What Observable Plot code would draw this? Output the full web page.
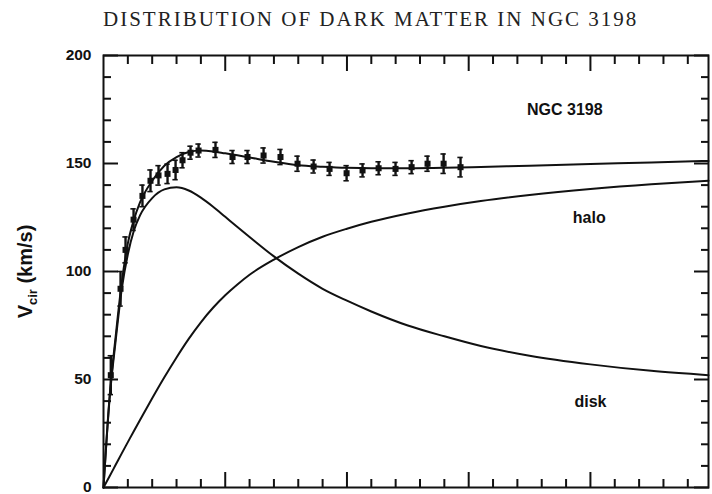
<!DOCTYPE html>
<html><head><meta charset="utf-8">
<script src="https://cdn.jsdelivr.net/npm/d3@7"></script>
<script src="https://cdn.jsdelivr.net/npm/@observablehq/plot@0.6"></script>
<style>
body{margin:0;background:#fff;width:712px;height:494px;overflow:hidden;position:relative}
#title{position:absolute;left:103px;top:9px;font-family:"Liberation Serif","Times New Roman",serif;font-size:21px;letter-spacing:2px;color:#222;white-space:nowrap;line-height:1}
#chart{position:absolute;left:0;top:0}
</style></head><body>
<div id="chart"></div>
<div id="title"></div>
<script>
const titleText = "DISTRIBUTION OF DARK MATTER IN NGC 3198";
const yLabelText = "Vcir (km/s)";

// model curves (radius kpc, velocity km/s)
const curveR = [0, 0.5, 1, 1.5, 2, 2.5, 3, 4, 5, 6, 7, 8, 9, 10, 11, 12, 14, 16, 18, 20, 22, 25, 28, 31, 35, 40, 45, 49.7];
const totalV = [0, 42, 70, 95, 113, 124, 132, 142, 149, 153, 155.3, 156, 155.6, 154.7, 153.8, 152.8, 150.8, 149.2, 148.5, 148, 147.8, 147.8, 148, 148.4, 149, 149.8, 150.5, 151.2];
const diskV  = [0, 41, 68, 92, 108, 119, 126, 134, 138, 139, 137.5, 134.2, 130, 125.3, 120.6, 116, 107, 99, 92, 86.5, 81.5, 75, 70, 65.5, 61, 57, 54, 52];
const haloV  = [0, 5.2, 10.5, 15.8, 21, 26.2, 31.3, 41.3, 51, 60.2, 68.8, 76.5, 83.2, 89, 94, 98.5, 105.5, 111.3, 116.1, 119.8, 123, 126.9, 130, 132.6, 135.4, 138.2, 140.4, 142];

// observed rotation curve points
const ptR = [0.6, 1.4, 1.81, 2.47, 3.2, 3.86, 4.52, 5.26, 5.92, 6.49, 7.15, 7.81, 9.2, 10.6, 11.83, 13.15, 14.54, 15.94, 17.26, 18.57, 19.97, 21.28, 22.6, 23.99, 25.31, 26.62, 27.94, 29.33];
const ptV = [52, 92, 110, 124, 135, 142, 144.5, 145.2, 147, 151.5, 155, 156, 156.3, 153, 153, 153.7, 153, 149.9, 148.6, 147.5, 145.5, 146.8, 147.8, 147.5, 148.3, 149.9, 149.9, 148.3];
const ptE = [9, 8, 6, 5, 5, 5, 4.5, 4.5, 4.5, 3.5, 3, 3, 3.5, 3, 3, 3.5, 3.5, 3.5, 3, 3, 3.5, 3, 3, 3, 3, 3.5, 4.5, 4.5];

// annotations
const noteText = ["NGC 3198", "halo", "disk"];
const noteR = [37.9, 39.9, 40.0];
const noteV = [175, 125, 39.5];

// axis ticks
const yMajor = [0, 50, 100, 150, 200];
const yMinor = d3.range(10, 200, 10).filter(v => v % 50 !== 0);
const xMajor = [10, 20, 30, 40];
const xMinor = d3.range(2, 50, 2).filter(v => v % 10 !== 0);

const mk = (vals) => curveR.map((r, i) => ({r, v: vals[i]}));
const pts = ptR.map((r, i) => ({r, v: ptV[i], e: ptE[i]}));
const notes = noteText.map((t, i) => ({t, r: noteR[i], v: noteV[i]}));

const ink = "#111";
const sans = "'Liberation Sans', Arial, Helvetica, sans-serif";
const tk = {stroke: ink, strokeWidth: 2, fill: "none", label: null};

const plot = Plot.plot({
  width: 712, height: 494,
  marginLeft: 103, marginRight: 4, marginTop: 55, marginBottom: 7,
  x: {domain: [0, 49.7], axis: null},
  y: {domain: [0, 200], axis: null},
  style: {background: "#fff", color: ink, fontFamily: sans},
  marks: [
    Plot.axisY(yMinor, {...tk, anchor: "left", tickSize: -8}),
    Plot.axisY(yMajor, {...tk, anchor: "left", tickSize: -15}),
    Plot.axisY(yMinor, {...tk, anchor: "right", tickSize: -8}),
    Plot.axisY(yMajor, {...tk, anchor: "right", tickSize: -15}),
    Plot.axisX(xMinor, {...tk, anchor: "bottom", tickSize: -8}),
    Plot.axisX(xMajor, {...tk, anchor: "bottom", tickSize: -15}),
    Plot.axisX(xMinor, {...tk, anchor: "top", tickSize: -8}),
    Plot.axisX(xMajor, {...tk, anchor: "top", tickSize: -15}),
    Plot.axisY(yMajor, {anchor: "left", stroke: "none", tickSize: -15, tickPadding: 27, label: null, fontSize: 15.5, fontWeight: "bold", fontFamily: sans, fill: ink}),
    Plot.frame({stroke: ink, strokeWidth: 2}),
    Plot.line(mk(totalV), {x: "r", y: "v", stroke: ink, strokeWidth: 2, curve: "monotone-x"}),
    Plot.line(mk(diskV), {x: "r", y: "v", stroke: ink, strokeWidth: 2, curve: "monotone-x"}),
    Plot.line(mk(haloV), {x: "r", y: "v", stroke: ink, strokeWidth: 2, curve: "monotone-x"}),
    Plot.ruleX(pts, {x: "r", y1: d => d.v - d.e, y2: d => d.v + d.e, stroke: ink, strokeWidth: 2.4}),
    Plot.ruleY(pts, {y: d => d.v + d.e, x1: d => d.r - 0.22, x2: d => d.r + 0.22, stroke: ink, strokeWidth: 1.6}),
    Plot.ruleY(pts, {y: d => d.v - d.e, x1: d => d.r - 0.22, x2: d => d.r + 0.22, stroke: ink, strokeWidth: 1.6}),
    Plot.dot(pts, {x: "r", y: "v", symbol: "square", r: 3.4, fill: ink, stroke: null}),
    Plot.text(notes, {x: "r", y: "v", text: "t", fontSize: 16, fontWeight: "bold", fontFamily: sans, fill: ink}),
    Plot.text([yLabelText], {frameAnchor: "left", textAnchor: "middle", dx: -78, rotate: -90, fontSize: 20, fontWeight: "bold", fontFamily: sans, fill: ink})
  ]
});

document.getElementById("chart").appendChild(plot);
document.getElementById("title").textContent = titleText;

// subscript for the y label
d3.select(plot).selectAll("text").filter(function() { return this.textContent === yLabelText; }).each(function() {
  const t = d3.select(this);
  t.text(null);
  t.append("tspan").text("V");
  t.append("tspan").attr("font-size", 13).attr("dy", 5).text("cir");
  t.append("tspan").attr("dy", -5).text(" (km/s)");
});
</script>
</body></html>
